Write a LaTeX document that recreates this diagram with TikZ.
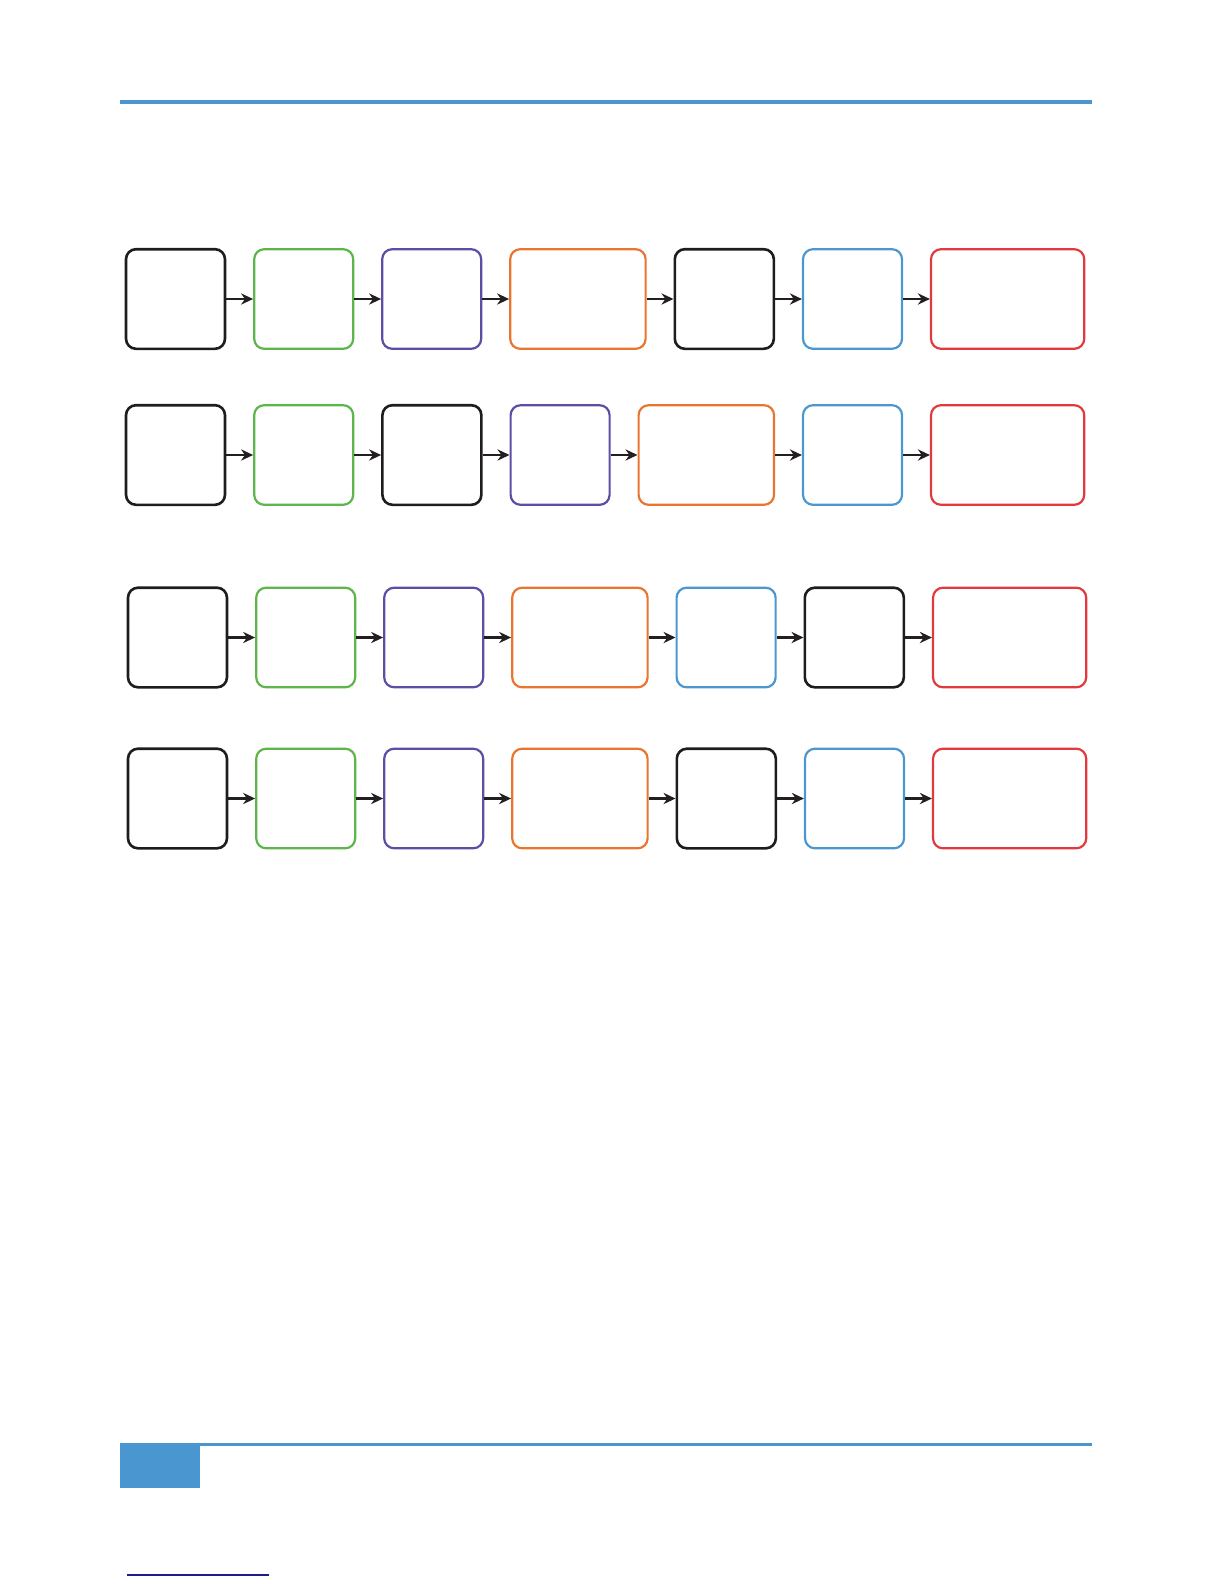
\documentclass[tikz,border=0pt]{standalone}
\usepackage{tikz}
\usetikzlibrary{arrows.meta,positioning}
\definecolor{boxblack}{HTML}{1E1C1D}
\definecolor{boxgreen}{HTML}{5DB54B}
\definecolor{boxpurple}{HTML}{5B4EA3}
\definecolor{boxorange}{HTML}{E87630}
\definecolor{boxblue}{HTML}{4B97CF}
\definecolor{boxred}{HTML}{E0393E}
\definecolor{pageblue}{HTML}{4A96D1}
\definecolor{pagenavy}{HTML}{1C1C8C}
\definecolor{arrowgray}{HTML}{231F20}

\begin{document}
\begin{tikzpicture}[
              x=0.5bp, y=-0.5bp,
              node distance=13.4bp,
              every node/.style={draw, rounded corners=5bp, inner sep=0pt,
                minimum height=49.8bp, line width=1.1bp},
              sq/.style={minimum width=49.5bp},
              wide/.style={minimum width=67.7bp},
              wider/.style={minimum width=76.6bp},
              blk/.style={draw=boxblack, line width=1.3bp},
              grn/.style={draw=boxgreen},
              prp/.style={draw=boxpurple},
              org/.style={draw=boxorange},
              blu/.style={draw=boxblue},
              rd/.style={draw=boxred},
              arr/.style={draw=arrowgray, line width=1.1bp, -{Stealth[length=6bp,width=5.6bp]}}
            ]
            \useasboundingbox (0,0) rectangle (1224,1584);

            % page header rule
            \draw[pageblue, line width=2bp] (120,102) -- (1092,102);

            % Row 1
            \node[sq,blk] (r1a) at (175.5,299) {};
            \node[sq,grn,right=of r1a] (r1b) {};
            \node[sq,prp,right=of r1b] (r1c) {};
            \node[wide,org,right=of r1c] (r1d) {};
            \node[sq,blk,right=of r1d] (r1e) {};
            \node[sq,blu,right=of r1e] (r1f) {};
            \node[wider,rd,right=of r1f] (r1g) {};
            \draw[arr] (r1a) -- (r1b); \draw[arr] (r1b) -- (r1c);
            \draw[arr] (r1c) -- (r1d); \draw[arr] (r1d) -- (r1e);
            \draw[arr] (r1e) -- (r1f); \draw[arr] (r1f) -- (r1g);

            % Row 2
            \node[sq,blk] (r2a) at (175.5,455) {};
            \node[sq,grn,right=of r2a] (r2b) {};
            \node[sq,blk,right=of r2b] (r2c) {};
            \node[sq,prp,right=of r2c] (r2d) {};
            \node[wide,org,right=of r2d] (r2e) {};
            \node[sq,blu,right=of r2e] (r2f) {};
            \node[wider,rd,right=of r2f] (r2g) {};
            \draw[arr] (r2a) -- (r2b); \draw[arr] (r2b) -- (r2c);
            \draw[arr] (r2c) -- (r2d); \draw[arr] (r2d) -- (r2e);
            \draw[arr] (r2e) -- (r2f); \draw[arr] (r2f) -- (r2g);

            % Row 3
            \node[sq,blk] (r3a) at (177.5,637.5) {};
            \node[sq,grn,right=of r3a] (r3b) {};
            \node[sq,prp,right=of r3b] (r3c) {};
            \node[wide,org,right=of r3c] (r3d) {};
            \node[sq,blu,right=of r3d] (r3e) {};
            \node[sq,blk,right=of r3e] (r3f) {};
            \node[wider,rd,right=of r3f] (r3g) {};
            \draw[arr] (r3a) -- (r3b); \draw[arr] (r3b) -- (r3c);
            \draw[arr] (r3c) -- (r3d); \draw[arr] (r3d) -- (r3e);
            \draw[arr] (r3e) -- (r3f); \draw[arr] (r3f) -- (r3g);

            % Row 4
            \node[sq,blk] (r4a) at (177.5,798.5) {};
            \node[sq,grn,right=of r4a] (r4b) {};
            \node[sq,prp,right=of r4b] (r4c) {};
            \node[wide,org,right=of r4c] (r4d) {};
            \node[sq,blk,right=of r4d] (r4e) {};
            \node[sq,blu,right=of r4e] (r4f) {};
            \node[wider,rd,right=of r4f] (r4g) {};
            \draw[arr] (r4a) -- (r4b); \draw[arr] (r4b) -- (r4c);
            \draw[arr] (r4c) -- (r4d); \draw[arr] (r4d) -- (r4e);
            \draw[arr] (r4e) -- (r4f); \draw[arr] (r4f) -- (r4g);

            % page footer: rule, tab and short underline
            \fill[pageblue] (120,1443) rectangle (200,1488);
            \draw[pageblue, line width=1.5bp] (120,1444.5) -- (1092,1444.5);
            \draw[pagenavy, line width=0.8bp] (127,1575) -- (269,1575);

            \end{tikzpicture}
\end{document}
